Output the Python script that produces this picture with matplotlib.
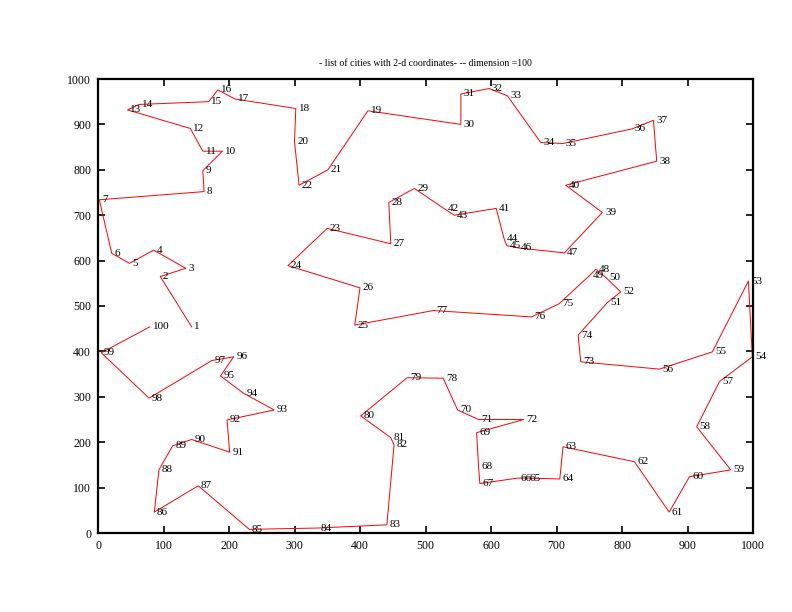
import matplotlib
matplotlib.use("Agg")
import matplotlib.pyplot as plt

# city coordinates, index = city number (1..100)
city_x = [143, 95, 134, 85, 48, 21, 2, 162, 160, 190,
          160, 141, 45, 63, 169, 183, 209, 302, 412, 300,
          351, 307, 350, 290, 392, 400, 447, 444, 483, 554,
          554, 597, 625, 676, 710, 815, 848, 853, 770, 714,
          608, 529, 544, 620, 624, 641, 712, 760, 751, 776,
          778, 798, 993, 999, 938, 857, 949, 914, 966, 903,
          872, 819, 710, 705, 655, 641, 583, 581, 578, 549,
          581, 650, 737, 733, 704, 662, 512, 527, 472, 401,
          447, 452, 441, 336, 231, 86, 153, 93, 114, 143,
          201, 197, 269, 222, 187, 207, 174, 78, 5, 79]
city_y = [454, 565, 583, 623, 594, 616, 734, 752, 798, 841,
          841, 891, 932, 944, 950, 976, 956, 935, 930, 862,
          800, 766, 671, 589, 458, 540, 637, 728, 759, 900,
          967, 979, 963, 860, 858, 890, 909, 819, 706, 766,
          715, 714, 700, 648, 633, 628, 617, 581, 568, 562,
          508, 531, 555, 388, 399, 361, 334, 234, 139, 124,
          46, 157, 190, 119, 121, 121, 109, 146, 221, 271,
          250, 250, 377, 436, 505, 476, 490, 341, 342, 258,
          210, 194, 18, 11, 8, 46, 104, 139, 192, 206,
          178, 249, 271, 308, 346, 388, 380, 297, 397, 454]

# order the path visits the cities
tour = [1, 2, 3, 4, 5, 6, 7, 8, 9, 10, 11, 12, 13, 14, 15, 16, 17, 18,
        20, 22, 21, 19, 30, 31, 32, 33, 34, 35, 36, 37, 38, 40, 39,
        47, 46, 45, 44, 41, 43, 42, 29, 28, 27, 23, 24, 26, 25,
        77, 76, 75, 49, 48, 50, 52, 51, 74, 73, 56, 55, 53, 54,
        57, 58, 59, 60, 61, 62, 63, 64, 65, 66, 67, 68, 69,
        72, 71, 70, 78, 79, 80, 81, 82, 83, 84, 85, 87, 86,
        88, 89, 90, 91, 92, 93, 94, 95, 96, 97, 98, 99, 100]

plt.rcParams['font.family'] = ['Liberation Serif', 'DejaVu Serif']

fig = plt.figure(figsize=(7.92, 6.12), dpi=100)
ax = fig.add_axes([98 / 792, 79 / 612, 655 / 792, 454 / 612])

px = [city_x[c - 1] for c in tour]
py = [city_y[c - 1] for c in tour]
ax.plot(px, py, color='#FF0000', linewidth=0.7)

for i in range(len(city_x)):
    ax.annotate(str(i + 1), (city_x[i], city_y[i]), xytext=(2, 0),
                textcoords='offset points', ha='left', va='center',
                fontsize=8)

ax.set_xlim(0, 1000)
ax.set_ylim(0, 1000)
ax.set_xticks(range(0, 1001, 100))
ax.set_yticks(range(0, 1001, 100))
ax.tick_params(direction='in', length=5, width=1.2, top=True, right=True,
               labelsize=8.5, pad=5)
for s in ax.spines.values():
    s.set_linewidth(1.6)
ax.set_title('- list of cities with 2-d coordinates- -- dimension =100',
             fontsize=7, pad=9)

fig.savefig('out.png', dpi=100)
